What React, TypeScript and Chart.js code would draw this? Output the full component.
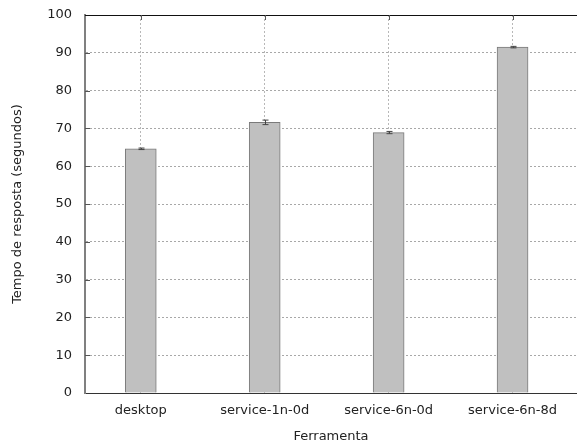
import React, { useEffect, useRef } from "react";
import { Chart, registerables } from "chart.js";

Chart.register(...registerables);

const categories = ["desktop", "service-1n-0d", "service-6n-0d", "service-6n-8d"];
const means = [64.6, 71.6, 68.9, 91.5];
const errors = [0.2, 0.6, 0.3, 0.2];
const yTicks = [0, 10, 20, 30, 40, 50, 60, 70, 80, 90, 100];

const FONT = "'DejaVu Sans', sans-serif";

const extrasPlugin = {
  id: "extras",
  afterDatasetsDraw(chart: any) {
    const { ctx, scales } = chart;
    const xs = scales.x;
    const ys = scales.y;
    ctx.save();
    ctx.strokeStyle = "#444";
    ctx.lineWidth = 1;
    means.forEach((m, i) => {
      const x = Math.round(xs.getPixelForValue(i)) + 0.5;
      const y1 = ys.getPixelForValue(m - errors[i]);
      const y2 = ys.getPixelForValue(m + errors[i]);
      ctx.beginPath();
      ctx.moveTo(x, y1);
      ctx.lineTo(x, y2);
      ctx.moveTo(x - 3, y1);
      ctx.lineTo(x + 3, y1);
      ctx.moveTo(x - 3, y2);
      ctx.lineTo(x + 3, y2);
      ctx.stroke();
    });
    ctx.restore();
  },
  afterDraw(chart: any) {
    const { ctx, chartArea, scales } = chart;
    const xs = scales.x;
    const ys = scales.y;
    ctx.save();
    ctx.strokeStyle = "#111";
    ctx.lineWidth = 1;
    ctx.beginPath();
    ctx.moveTo(chartArea.left, Math.round(chartArea.top) + 0.5);
    ctx.lineTo(chartArea.right, Math.round(chartArea.top) + 0.5);
    ctx.stroke();
    ctx.strokeStyle = "#555";
    ctx.beginPath();
    yTicks.forEach((v) => {
      if (v === 0 || v === 100) return;
      const y = Math.round(ys.getPixelForValue(v)) + 0.5;
      ctx.moveTo(chartArea.left, y);
      ctx.lineTo(chartArea.left + 5, y);
    });
    categories.forEach((_, i) => {
      const x = Math.round(xs.getPixelForValue(i)) + 0.5;
      ctx.moveTo(x, chartArea.top);
      ctx.lineTo(x, chartArea.top + 5);
    });
    ctx.stroke();
    ctx.restore();
  },
};

export default function App() {
  const ref = useRef<HTMLCanvasElement | null>(null);

  useEffect(() => {
    document.body.style.margin = "0";
    if (!ref.current) return;
    const chart = new Chart(ref.current, {
      type: "bar",
      data: {
        datasets: [
          {
            data: means.map((v, i) => ({ x: i, y: v })),
            backgroundColor: "#c0c0c0",
            borderColor: "#7a7a7a",
            borderWidth: 1,
            barThickness: 31,
          },
        ],
      },
      options: {
        responsive: false,
        animation: false,
        layout: { padding: { top: 15, right: 0, left: 0, bottom: 0 } },
        plugins: {
          legend: { display: false },
          tooltip: { enabled: false },
        },
        scales: {
          x: {
            type: "linear",
            min: -0.45,
            max: 3.52,
            offset: false,
            afterBuildTicks: (scale: any) => {
              scale.ticks = categories.map((_, i) => ({ value: i }));
            },
            afterFit: (scale: any) => {
              scale.height = 55;
              scale.paddingLeft = 0;
              scale.paddingRight = 0;
            },
            ticks: {
              callback: (v: any) => categories[v as number],
              color: "#222",
              font: { family: FONT, size: 13 },
              padding: 10,
              maxRotation: 0,
              autoSkip: false,
            },
            grid: {
              color: "#b8b8b8",
              lineWidth: 1,
              drawTicks: false,
              offset: false,
            },
            border: { color: "#333", width: 1, dash: [2, 2] },
            title: {
              display: true,
              text: "Ferramenta",
              color: "#222",
              font: { family: FONT, size: 13 },
              padding: { top: 0, bottom: 4 },
            },
          },
          y: {
            min: 0,
            max: 100,
            afterBuildTicks: (scale: any) => {
              scale.ticks = yTicks.map((v) => ({ value: v }));
            },
            afterFit: (scale: any) => {
              scale.width = 85;
              scale.paddingTop = 0;
              scale.paddingBottom = 0;
            },
            ticks: {
              color: "#222",
              font: { family: FONT, size: 13 },
              padding: 13,
            },
            grid: {
              color: (c: any) =>
                c.tick && (c.tick.value === 0 || c.tick.value === 100) ? "rgba(0,0,0,0)" : "#a8a8a8",
              lineWidth: 1,
              drawTicks: false,
            },
            border: { color: "#808080", width: 2, dash: [2, 2] },
            title: {
              display: true,
              text: "Tempo de resposta (segundos)",
              color: "#222",
              font: { family: FONT, size: 13 },
              padding: { top: 10, bottom: 0 },
            },
          },
        },
      },
      plugins: [extrasPlugin],
    });
    return () => chart.destroy();
  }, []);

  return (
    <div style={{ width: 577, height: 448, overflow: "hidden" }}>
      <canvas ref={ref} width={577} height={448} />
    </div>
  );
}
